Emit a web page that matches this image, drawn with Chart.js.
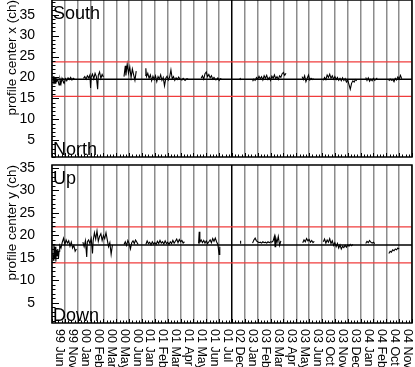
<!DOCTYPE html>
<html>
<head>
<meta charset="utf-8">
<script src="https://cdn.jsdelivr.net/npm/chart.js@4.4.1/dist/chart.umd.min.js"></script>
<style>
  html, body { margin: 0; padding: 0; background: #fff; }
  canvas { position: absolute; left: 0; }
</style>
</head>
<body>
<canvas id="chartX" width="415" height="160" style="top:0"></canvas>
<canvas id="chartY" width="415" height="207" style="top:160px"></canvas>
<script>
// month bins along the time axis
const months = ['99 Jun','99 Nov','00 Jan','00 Feb','00 Mar','00 May','00 Jun','01 Jan','01 Feb','01 Mar',
  '01 Apr','01 May','01 Jun','01 Jul','02 Dec','03 Jan','03 Feb','03 Mar','03 Apr','03 May',
  '03 Jun','03 Oct','03 Nov','03 Dec','04 Jan','04 Feb','04 Oct','04 Nov'];

// reference lines: mean, upper, lower
const refX = [19.6, 23.7, 15.5];
const refY = [17.9, 21.9, 13.9];

// profile center x -- time in month-bin units, null y = gap
const timeX = [
  0.10,0.15,0.20,0.25,0.30,0.35,0.45,0.55,0.62,0.70,0.78,0.85,0.95,1.05,1.15,1.25,1.35,1.45,1.55,1.65,1.75, 2.0,
  2.45,2.55,2.65,2.75,2.85,2.95,3.00,3.05,3.15,3.25,3.35,3.45,3.55,3.60,3.70,3.80,3.90,4.00, 4.5,
  5.60,5.70,5.75,5.85,5.95,6.05,6.15,6.25,6.35,6.45,6.55, 7.0,
  7.25,7.30,7.35,7.45,7.55,7.65,7.75,7.85,7.95,8.05,8.15,8.25,8.35,8.45,8.55,8.65,8.75,8.85,8.95,9.05,
  9.15,9.25,9.35,9.45,9.55,9.65,9.75,9.85,9.95,10.1,10.2,10.35,10.5,10.6, 11.2,
  11.6,11.7,11.8,11.9,12.0,12.1,12.2,12.3,12.4,12.5,12.6,12.75,12.9,13.0,13.1,13.2, 14.0,
  14.62,14.68, 15.0,
  15.6,15.7,15.8,15.9,16.0,16.1,16.2,16.3,16.4,16.5,16.6,16.7,16.8,16.9,17.0,17.1,17.2,17.3,17.4,17.5,
  17.6,17.7,17.8,17.9,18.0,18.1,18.2, 18.8,
  19.45,19.55,19.65,19.75,19.85,19.95,20.05,20.15,20.25,20.35, 20.7,
  21.1,21.2,21.3,21.4,21.5,21.6,21.7,21.8,21.9,22.0,22.1,22.2,22.3,22.4,22.5,22.6,22.7,22.8,22.9,23.0,
  23.1,23.2,23.3,23.4,23.5,23.6,23.7, 24.0,
  24.4,24.5,24.6,24.7,24.8,24.9,25.0,25.1,25.2,25.3, 25.8,
  26.2,26.3,26.4,26.5,26.6,26.7,26.8,26.9,27.0,27.1,27.2
];
const centerX = [
  20.3,18.4,20.1,18.6,20.0,19.0,19.4,18.2,19.6,18.5,19.8,19.2,18.6,19.7,19.2,19.9,19.5,20.0,19.4,19.8,19.6, null,
  19.8,20.2,19.6,20.4,19.9,20.6,17.5,20.1,20.8,19.7,21.0,20.2,17.2,20.5,21.3,19.8,20.7,20.1, null,
  20.2,22.8,20.5,23.2,21.0,22.5,20.0,22.0,20.6,19.3,21.5, null,
  20.5,22.2,20.2,21.0,19.8,20.6,19.2,20.3,19.5,20.4,19.0,20.2,19.6,20.6,19.3,20.0,18.0,19.8,20.3,19.4,
  20.1,21.8,19.7,20.2,19.3,19.9,19.5,20.1,19.6,19.4,19.8,19.3,19.7,19.5, null,
  19.8,20.4,19.6,20.9,21.3,20.2,20.7,19.9,20.4,19.6,20.0,19.4,19.9,19.3,19.7,19.5, null,
  19.9,19.4, null,
  19.1,19.6,19.3,20.0,19.6,20.3,19.7,20.2,19.4,20.4,19.8,20.5,19.5,20.0,19.3,20.3,19.8,20.6,19.7,20.2,
  19.5,20.4,20.0,20.9,21.2,20.5,21.0, null,
  20.2,19.5,20.4,19.0,19.8,20.6,19.4,19.8,19.5,19.7, null,
  19.3,20.0,19.5,20.6,20.0,20.8,19.8,20.4,19.6,20.2,19.5,20.0,19.3,19.8,19.2,19.9,19.3,19.7,18.9,19.4,
  18.3,17.2,18.6,19.2,18.9,19.5,19.2, null,
  20.0,19.3,19.9,19.1,19.6,19.2,19.8,19.3,19.6,19.9, null,
  19.2,19.6,19.3,19.5,19.0,19.8,19.4,20.1,19.6,20.5,19.7
];

// profile center y
const timeY = [
  0.05,0.10,0.15,0.20,0.25,0.30,0.35,0.40,0.45,0.50,0.55,0.60,0.70,0.80,0.90,1.00,1.10,1.20,1.30,1.40,
  1.50,1.60,1.70,1.80,1.90, 2.1,
  2.40,2.50,2.60,2.70,2.75,2.85,2.95,3.05,3.15,3.20,3.30,3.40,3.50,3.60,3.70,3.80,3.90,4.00,4.10,4.20,
  4.30,4.40,4.50,4.60,4.70, 5.2,
  5.6,5.7,5.8,5.9,6.0,6.1,6.2,6.3,6.4,6.5,6.6,6.7, 7.0,
  7.3,7.4,7.5,7.6,7.7,7.8,7.9,8.0,8.1,8.2,8.3,8.4,8.5,8.6,8.7,8.8,8.9,9.0,9.1,9.2,
  9.3,9.4,9.5,9.6,9.7,9.8,9.9,10.0,10.1,10.2,10.3, 11.0,
  11.4,11.45,11.5,11.6,11.7,11.8,11.9,12.0,12.1,12.2,12.3,12.4,12.5,12.6,12.7,12.8,12.9,13.0,13.05, 14.0,
  14.63,14.67, 15.0,
  15.6,15.7,15.8,15.9,16.0,16.1,16.2,16.3,16.4,16.5,16.6,16.7,16.8,16.9,17.0,17.1,17.2,17.3,17.35,17.4,
  17.5,17.6,17.7,17.8, 19.0,
  19.5,19.6,19.7,19.8,19.9,20.0,20.1,20.2,20.3,20.4, 20.8,
  21.1,21.2,21.3,21.4,21.5,21.6,21.7,21.8,21.9,22.0,22.1,22.2,22.3,22.4,22.5,22.6,22.7,22.8,22.9,23.0,
  23.1,23.2,23.3,23.4, 24.0,
  24.4,24.5,24.6,24.7,24.8,24.9,25.0,25.1, 25.7,
  26.2,26.3,26.4,26.5,26.6,26.7,26.8,26.9,27.0
];
const centerY = [
  16.0,14.5,18.0,15.0,17.5,14.2,16.8,15.5,17.0,14.8,16.5,17.8,17.2,18.5,19.4,18.0,19.0,18.3,18.8,17.6,
  18.5,17.2,17.8,16.5,17.0, null,
  18.5,17.5,18.8,15.2,18.6,19.0,18.2,19.3,16.0,18.8,20.6,19.2,21.0,18.7,19.8,20.4,18.9,20.0,19.3,20.6,
  19.0,17.5,18.4,15.8,17.9, null,
  18.0,18.6,17.8,18.9,18.2,17.0,18.4,18.8,18.2,19.0,18.5,18.0, null,
  18.0,18.8,18.2,18.5,17.9,18.6,18.1,18.4,18.0,18.7,18.2,18.9,18.3,18.6,18.1,18.8,18.2,18.5,18.0,18.6,
  18.2,18.9,18.3,18.7,19.2,18.4,19.1,18.6,18.9,18.3,18.6, null,
  18.2,20.8,18.5,19.0,18.4,18.9,18.3,18.8,18.2,18.6,19.0,18.4,19.3,18.7,19.4,18.6,18.0,15.8,17.5, null,
  18.3,18.8, null,
  18.3,19.0,19.4,18.8,18.6,18.4,18.5,18.3,18.6,18.4,18.5,18.3,18.6,18.4,18.6,18.5,18.8,19.8,17.5,19.5,
  18.4,19.8,17.8,18.8, null,
  18.4,19.0,18.6,19.3,18.8,19.1,18.5,18.9,18.4,18.7, null,
  18.6,19.2,18.3,19.0,18.5,19.3,18.2,18.8,17.8,18.4,17.5,18.2,17.2,17.9,17.0,17.6,17.3,17.8,17.4,17.9,
  17.6,18.0,17.7,18.0, null,
  18.2,18.7,18.4,18.9,18.5,18.3,18.5,18.2, null,
  16.0,16.5,16.3,16.8,16.6,17.0,16.8,17.2,17.0
];

const FONT = '"Liberation Sans", Arial, Helvetica, sans-serif';

function toPoints(xs, ys) {
  return xs.map((x, i) => ({ x: x, y: ys[i] }));
}

function refLine(v, color, width) {
  return {
    data: [{ x: 0, y: v }, { x: months.length, y: v }],
    borderColor: color, borderWidth: width, pointRadius: 0
  };
}

// frame, inner ticks, corner words and rotated month labels
const decor = {
  id: 'decor',
  afterDraw(chart, args, opts) {
    const { ctx, chartArea: a, scales: { x, y } } = chart;
    ctx.save();
    ctx.strokeStyle = '#000';
    ctx.lineWidth = 1;
    ctx.beginPath();
    for (let v = Math.ceil(y.min); v <= y.max; v++) {
      const py = Math.round(y.getPixelForValue(v)) + 0.5;
      const len = v % 5 === 0 ? 7 : 3.5;
      ctx.moveTo(a.left, py);
      ctx.lineTo(a.left + len, py);
    }
    for (let t = 0; t <= months.length; t += 0.25) {
      const px = Math.round(x.getPixelForValue(t)) + 0.5;
      const len = Number.isInteger(t) ? 4 : 2.5;
      ctx.moveTo(px, a.bottom);
      ctx.lineTo(px, a.bottom - len);
    }
    ctx.stroke();

    ctx.lineWidth = 1.5;
    ctx.strokeRect(a.left, a.top, a.right - a.left, a.bottom - a.top);

    ctx.fillStyle = '#000';
    ctx.font = '18px ' + FONT;
    ctx.textAlign = 'left';
    ctx.textBaseline = 'alphabetic';
    ctx.fillText(opts.upper, a.left + 1, a.top + 19);
    ctx.fillText(opts.lower, a.left + 1, a.bottom - 2.5);

    if (opts.labels) {
      ctx.font = '12.5px ' + FONT;
      ctx.textBaseline = 'middle';
      ctx.textAlign = 'left';
      months.forEach((m, i) => {
        ctx.save();
        ctx.translate(x.getPixelForValue(i + 0.5) + 1.5, a.bottom + 6);
        ctx.rotate(Math.PI / 2);
        ctx.fillText(m, 0, 0);
        ctx.restore();
      });
    }
    ctx.restore();
  }
};

function makeChart(id, xs, ys, ref, yMin, yMax, title, padding, words) {
  return new Chart(document.getElementById(id), {
    type: 'line',
    data: {
      datasets: [
        refLine(ref[1], '#f03c3c', 1.2),
        refLine(ref[2], '#f03c3c', 1.2),
        refLine(ref[0], '#000', 1.5),
        {
          data: toPoints(xs, ys),
          borderColor: '#000', borderWidth: 1.1, pointRadius: 0,
          tension: 0, spanGaps: false
        }
      ]
    },
    options: {
      responsive: false,
      animation: false,
      devicePixelRatio: 1,
      layout: { padding: padding },
      plugins: { legend: { display: false }, tooltip: { enabled: false }, decor: words },
      scales: {
        x: {
          type: 'linear', min: 0, max: months.length,
          ticks: { display: false, stepSize: 1, autoSkip: false },
          grid: {
            drawTicks: false, lineWidth: 1.5,
            color: c => c.index === 14 ? '#000' : '#8c8c8c'
          },
          border: { display: false },
          afterFit: s => { s.height = 0; }
        },
        y: {
          min: yMin, max: yMax,
          ticks: { stepSize: 5, includeBounds: false, padding: 9, color: '#000', font: { size: 14, family: FONT } },
          grid: { display: false },
          border: { display: false },
          title: {
            display: true, text: title, align: 'end', color: '#000',
            font: { size: 13.5, family: FONT }, padding: { top: 4, bottom: 0 }
          },
          afterFit: s => { s.width = 52; s.paddingTop = 0; s.paddingBottom = 0; }
        }
      }
    },
    plugins: [decor]
  });
}

makeChart('chartX', timeX, centerX, refX, 1, 38.5, 'profile center x (ch)',
  { top: 0, right: 3, bottom: 3, left: 0 }, { upper: 'South', lower: 'North', labels: false });
makeChart('chartY', timeY, centerY, refY, 0.55, 35.65, 'profile center y (ch)',
  { top: 5, right: 3, bottom: 44, left: 0 }, { upper: 'Up', lower: 'Down', labels: true });
</script>
</body>
</html>
